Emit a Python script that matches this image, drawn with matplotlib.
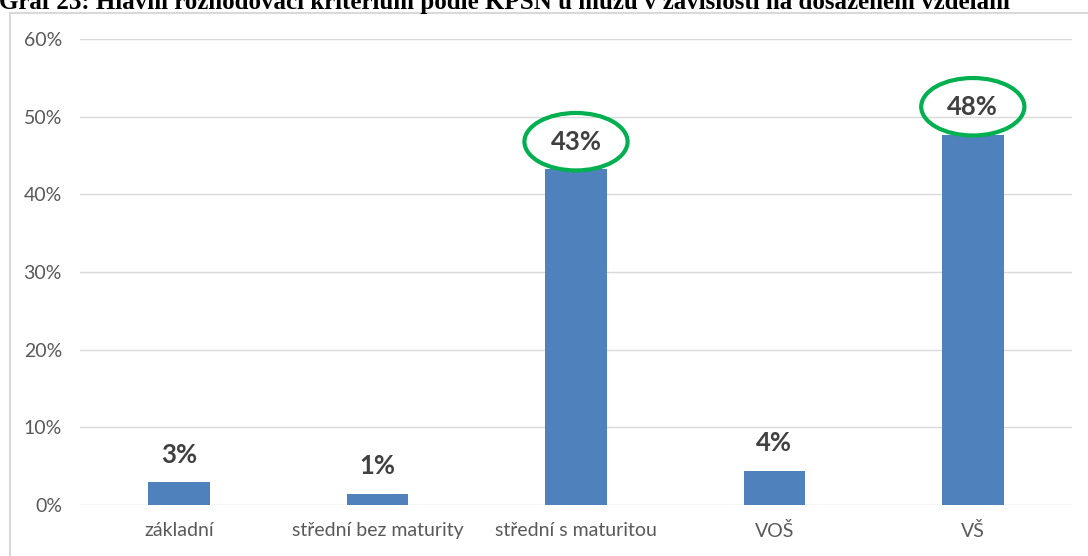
import matplotlib
matplotlib.use("Agg")
import matplotlib.pyplot as plt
from matplotlib.patches import Ellipse, Rectangle
from matplotlib.transforms import ScaledTranslation

categories = ["základní", "střední bez maturity", "střední s maturitou", "VOŠ", "VŠ"]
values = [2.9, 1.4, 43.2, 4.4, 47.7]
highlighted = [2, 4]
y_ticks = [0, 10, 20, 30, 40, 50, 60]
title = "Graf 23: Hlavní rozhodovací kritérium podle KPSN u mužů v závislosti na dosaženém vzdělání"

W, H = 1088, 556
fig = plt.figure(figsize=(W / 100, H / 100), dpi=100)
plt.rcParams["font.family"] = ["Lato", "DejaVu Sans"]

# chart frame, cut by the page edge
fig.patches.append(Rectangle((9.5 / W, -0.1), 1.2, (H - 13) / H + 0.1,
                             transform=fig.transFigure, fill=False,
                             edgecolor="#d9d9d9", linewidth=1.5))

fig.text(1010 / W, 1 - 9.5 / H, title, ha="right", va="baseline",
         family="Liberation Serif", weight="bold", fontsize=18)

ax = fig.add_axes([80 / W, (H - 505) / H, 992 / W, 466 / H])
x = range(len(categories))
ax.bar(x, values, width=0.31, color="#4f81bd", zorder=3)

ax.set_xlim(-0.5, len(categories) - 0.5)
ax.set_ylim(0, 60)
ax.set_yticks(y_ticks)
ax.set_yticklabels([f"{t}%" for t in y_ticks])
ax.set_xticks(list(x))
ax.set_xticklabels(categories)
ax.grid(axis="y", color="#d9d9d9", linewidth=1, zorder=0)
for s in ax.spines.values():
    s.set_visible(False)
ax.tick_params(axis="both", length=0, colors="#595959", labelsize=14)
ax.tick_params(axis="y", pad=13)
ax.tick_params(axis="x", pad=12)

# value labels above the bars
shift = ScaledTranslation(0, 20 / 72, fig.dpi_scale_trans)
for i, v in enumerate(values):
    ax.annotate(f"{v:.0f}%", (i, v), xytext=(0, 20), textcoords="offset points",
                ha="center", va="center", fontsize=18.5, fontweight="bold",
                color="#404040", zorder=4)
    if i in highlighted:
        ax.add_patch(Ellipse((i, v), width=0.52, height=7.4,
                             transform=ax.transData + shift, fill=False,
                             edgecolor="#00b050", linewidth=3, zorder=5,
                             clip_on=False))

fig.savefig("out.png", dpi=100)
